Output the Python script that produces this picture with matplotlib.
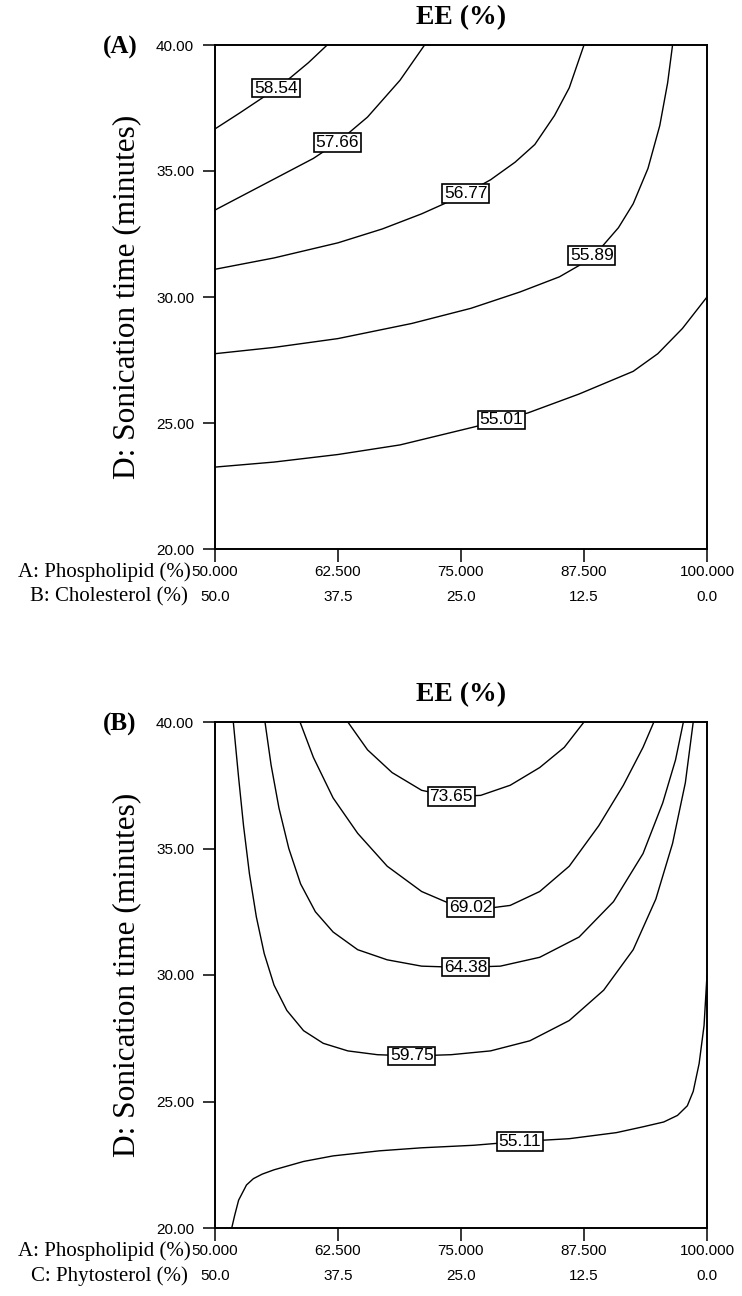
import numpy as np
import matplotlib
matplotlib.use("Agg")
import matplotlib.pyplot as plt

# x = A: Phospholipid (%), y = D: Sonication time (minutes)
xticks = [50.0, 62.5, 75.0, 87.5, 100.0]
row1 = ["50.000", "62.500", "75.000", "87.500", "100.000"]
row2 = ["50.0", "37.5", "25.0", "12.5", "0.0"]
yticks = [20, 25, 30, 35, 40]

# panel A contour lines
a_levels = ["55.01", "55.89", "56.77", "57.66", "58.54"]
a_x = [
    [50, 56, 62.5, 68.8, 76.3, 81.8, 87, 92.5, 95, 97.5, 100],
    [50, 56, 62.5, 70, 76, 81, 85, 87, 89, 91, 92.5, 94, 95.2, 96, 96.5],
    [50, 56, 62.5, 67, 71, 75, 78, 80.5, 82.5, 84.5, 86, 87.5],
    [50, 51.8, 56, 60, 62.5, 65.5, 68.8, 71.3],
    [50, 52.5, 55, 57.5, 59.5, 61.4],
]
a_y = [
    [23.25, 23.45, 23.75, 24.13, 24.84, 25.4, 26.15, 27.05, 27.75, 28.75, 30.0],
    [27.75, 28.0, 28.35, 28.95, 29.55, 30.2, 30.8, 31.25, 31.85, 32.75, 33.7,
     35.1, 36.8, 38.5, 40.0],
    [31.1, 31.55, 32.15, 32.7, 33.3, 34.0, 34.65, 35.35, 36.05, 37.2, 38.3, 40.0],
    [33.45, 33.82, 34.68, 35.5, 36.15, 37.14, 38.6, 40.0],
    [36.67, 37.3, 37.95, 38.65, 39.3, 40.0],
]
a_label_x = [79.1, 88.3, 75.5, 62.4, 56.2]

# panel B contour lines
b_levels = ["55.11", "59.75", "64.38", "69.02", "73.65"]
b_x = [
    [51.7, 52.0, 52.4, 53.2, 53.9, 54.8, 56, 59, 62, 66.7, 71, 76.3, 80.65, 86,
     90.8, 93.5, 95.6, 97, 98, 98.6, 99.2, 99.7, 100],
    [51.86, 52.4, 52.9, 53.5, 54.2, 55.0, 56.0, 57.3, 59.0, 61.0, 63.5, 66.5, 70,
     74, 78, 82, 86, 89.5, 92.5, 94.8, 96.5, 97.8, 98.6],
    [55.08, 55.7, 56.5, 57.5, 58.7, 60.2, 62, 64.5, 67.5, 71, 75, 79, 83, 87,
     90.5, 93.5, 95.5, 96.8, 97.6],
    [58.64, 60, 62, 64.5, 67.5, 71, 74, 77, 80, 83, 86, 89, 91.5, 93.5, 94.6],
    [63.5, 65.5, 68, 71, 74, 77, 80, 83, 85.5, 87.5],
]
b_y = [
    [20, 20.5, 21.1, 21.7, 21.95, 22.13, 22.3, 22.63, 22.85, 23.05, 23.17, 23.27,
     23.41, 23.53, 23.77, 24.0, 24.19, 24.45, 24.83, 25.4, 26.5, 28, 30],
    [40, 37.8, 35.9, 34.0, 32.3, 30.85, 29.6, 28.6, 27.8, 27.3, 27.0, 26.85, 26.8,
     26.85, 27.0, 27.4, 28.2, 29.4, 31.0, 33.0, 35.2, 37.6, 40],
    [40, 38.3, 36.6, 35.0, 33.6, 32.5, 31.7, 31.0, 30.6, 30.35, 30.3, 30.35, 30.7,
     31.5, 32.9, 34.8, 36.8, 38.5, 40],
    [40, 38.6, 37.0, 35.6, 34.3, 33.3, 32.8, 32.6, 32.75, 33.3, 34.3, 35.9, 37.5,
     39.0, 40],
    [40, 38.9, 38.0, 37.3, 37.05, 37.1, 37.5, 38.2, 39.0, 40],
]
b_label_x = [81.0, 70.0, 75.5, 76.0, 74.0]

W, H = 742, 1296
fig = plt.figure(figsize=(W / 100, H / 100), dpi=100)

serif = "Liberation Serif"
sans = "Liberation Sans"


def panel(top_px, bottom_px, xs, ys, levels, label_x, tag, row2_name):
    ax = fig.add_axes([215 / W, 1 - bottom_px / H, 492 / W, (bottom_px - top_px) / H])
    for lx, ly in zip(xs, ys):
        ax.plot(lx, ly, color="black", lw=1.0, zorder=2)
    for lx, ly, lev, tx in zip(xs, ys, levels, label_x):
        ty = np.interp(tx, lx, ly)
        ax.text(tx, ty, lev, ha="center", va="center", fontsize=12.5, family=sans,
                zorder=3,
                bbox=dict(boxstyle="square,pad=0.1", fc="white", ec="black", lw=1.2))
    ax.set_xlim(50, 100)
    ax.set_ylim(20, 40)
    ax.set_yticks(yticks)
    ax.set_yticklabels(["%.2f" % v for v in yticks], fontsize=11, family=sans)
    ax.set_xticks(xticks)
    ax.set_xticklabels([])
    ax.tick_params(axis="both", direction="out", length=9, width=1.1, pad=6)
    for s in ax.spines.values():
        s.set_linewidth(1.4)
    for xv, t1, t2 in zip(xticks, row1, row2):
        ax.text(xv, -0.045, t1, transform=ax.get_xaxis_transform(), ha="center",
                va="center", fontsize=11, family=sans)
        ax.text(xv, -0.095, t2, transform=ax.get_xaxis_transform(), ha="center",
                va="center", fontsize=11, family=sans)
    mid = (top_px + bottom_px) / 2
    fig.text(191 / W, 1 - (bottom_px + 23) / H, "A: Phospholipid (%)", ha="right",
             va="center", fontsize=15, family=serif)
    fig.text(188 / W, 1 - (bottom_px + 48) / H, row2_name, ha="right",
             va="center", fontsize=15, family=serif)
    fig.text(127 / W, 1 - mid / H, "D: Sonication time (minutes)", rotation=90,
             ha="center", va="center", fontsize=22.5, family=serif)
    fig.text(461 / W, 1 - (top_px - 27) / H, "EE (%)", ha="center", va="center",
             fontsize=20, family=serif, weight="bold")
    fig.text(120 / W, 1 - (top_px + 2) / H, tag, ha="center", va="center",
             fontsize=18, family=serif, weight="bold")
    return ax


panel(45, 549, a_x, a_y, a_levels, a_label_x, "(A)", "B: Cholesterol (%)")
panel(722, 1228, b_x, b_y, b_levels, b_label_x, "(B)", "C: Phytosterol (%)")

fig.savefig("out.png", dpi=100)
